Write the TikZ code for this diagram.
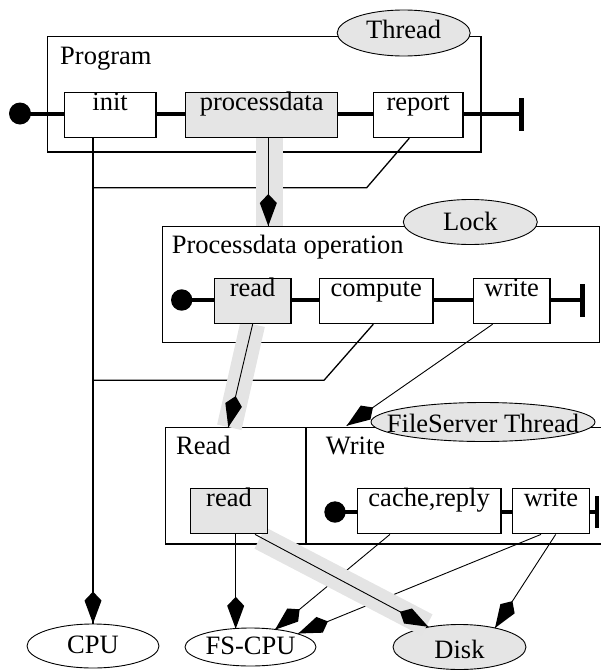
\documentclass[tikz,border=0pt]{standalone}
\usepackage{fontspec}
\setmainfont{Liberation Serif}
\usetikzlibrary{shapes.geometric,calc}
\definecolor{lg}{RGB}{229,229,229}
\definecolor{bandc}{RGB}{228,228,228}
\newcommand{\zwtext}[1]{\makebox[0pt]{#1}}
% kite-shaped arrow head: #1 = a point on the shaft, #2 = the tip
\newcommand{\kitehead}[2]{\fill ($(#2)!32pt!(#1)$) -- ($(#2)!23pt!(#1)!8.5pt!90:(#2)$) -- (#2) -- ($(#2)!23pt!(#1)!8.5pt!-90:(#2)$) -- cycle;}
\begin{document}
\begin{tikzpicture}[x=1pt,y=-1pt,
  font=\fontsize{26.5}{30}\selectfont,
  frame/.style={draw, line width=1.4pt, inner sep=0pt, rectangle},
  op/.style={draw, line width=1.4pt, fill=white, inner sep=0pt, rectangle,
    minimum width=#1, minimum height=45pt, text height=8pt, text depth=18pt},
  opg/.style={op=#1, fill=lg},
  oval/.style={ellipse, draw, line width=0.9pt, inner sep=0pt, text depth=0pt},
  flow/.style={line width=4pt},
  dotnode/.style={circle, fill=black, inner sep=0pt, minimum size=#1},
  barnode/.style={rectangle, fill=black, inner sep=0pt, minimum width=4.7pt, minimum height=#1},
  conn/.style={line width=1.3pt},
  slim/.style={line width=0.9pt},
  band/.style={line width=25pt, draw=bandc},
  lbl/.style={anchor=base west, inner sep=0pt}
]
\useasboundingbox (0,0) rectangle (601,672);
\clip (0,0) rectangle (601,672);

% ---- big frames ----
\node[frame, minimum width=433.3pt, minimum height=115.3pt] (prog) at (264.35,94.35) {};
\node[frame, minimum width=436.8pt, minimum height=115.6pt] (po) at (381.1,284.5) {};
\node[frame, minimum width=444.3pt, minimum height=116.7pt] (rw) at (387.85,485.65) {};
\coordinate (divtop) at (306,427.3);
\coordinate (divbot) at (306,544);
\draw[line width=1.4pt] (divtop) -- (divbot);

% ---- labels ----
\node[lbl] (lprog) at (60,64) {Program};
\node[lbl] (lpo) at (171.7,253.5) {Processdata operation};
\node[lbl] (lread) at (176,454.3) {Read};
\node[lbl] (lwrite) at (325.7,454.3) {Write};

% ---- ellipses (resources) ----
\node[oval, fill=lg, minimum width=133pt, minimum height=46pt, text height=10pt] (thread) at (403.7,33) {\zwtext{Thread}};
\node[oval, fill=lg, minimum width=134pt, minimum height=45pt, text height=17pt] (lock) at (470.3,222) {\zwtext{Lock}};
\node[oval, fill=lg, minimum width=224pt, minimum height=39pt, text height=20pt] (fst) at (483,422) {\zwtext{FileServer Thread}};
\node[oval, fill=white, minimum width=132pt, minimum height=44pt, text height=14.6pt] (cpu) at (93,646) {\zwtext{CPU}};
\node[oval, fill=white, minimum width=131pt, minimum height=38pt, text height=15.4pt] (fscpu) at (250.5,647) {\zwtext{FS-CPU}};
\node[oval, fill=lg, minimum width=133pt, minimum height=45pt, text height=22pt] (disk) at (459.5,647) {\zwtext{Disk}};

% ---- operation boxes ----
\node[op=91.7pt] (init) at (110.15,115) {init};
\node[opg=152pt] (pd) at (261.7,115) {processdata};
\node[op=89.7pt] (report) at (418.15,115) {report};

\node[opg=76.7pt] (rd2) at (252.65,301) {read};
\node[op=113.7pt] (comp) at (376.15,301) {compute};
\node[op=76.7pt] (wr2) at (511.65,301) {write};

\node[opg=76.6pt] (rd3) at (229,511.2) {read};
\node[op=143.7pt] (cache) at (429.15,511.2) {cache,reply};
\node[op=76.6pt] (wr3) at (551,511.2) {write};

% ---- connector end points ----
\coordinate (rp) at ([xshift=-8.85pt]report.south);
\coordinate (cp) at ([xshift=-2.85pt]comp.south);
\coordinate (ip) at (init.south -| cpu.north);
\coordinate (w2p) at ([xshift=-19pt]wr2.south);
\coordinate (r3a) at ([xshift=6.7pt]rd3.south);
\coordinate (r3b) at ([xshift=26pt]rd3.south);
\coordinate (cap) at ([xshift=-39.2pt]cache.south);
\coordinate (w3a) at ([xshift=-10pt]wr3.south);
\coordinate (w3b) at ([xshift=4.7pt]wr3.south);
\coordinate (r2p) at (rd2.south);
\coordinate (pa) at ([xshift=6.6pt]pd.south);
\coordinate (pat) at (pa |- po.north);

\coordinate (wa) at (346.7,425.7);
\coordinate (ra) at (228.3,427.3);
\coordinate (f1) at (235.7,628.8);
\coordinate (f2) at (275,629.7);
\coordinate (f3) at (298.3,633.5);
\coordinate (d1) at (428.3,626.8);
\coordinate (d2) at (495,628);

% ---- thin connectors ----
\coordinate (k1) at (366.7,187.7);
\draw[conn] (rp) -- (k1) -- (k1 -| cpu.north);
\coordinate (k2) at (324,380.3);
\draw[conn] (cp) -- (k2) -- (k2 -| cpu.north);
\draw[conn] (ip) -- (cpu.north); \kitehead{ip}{cpu.north}

\draw[slim] (w2p) -- (wa); \kitehead{w2p}{wa}

\draw[conn] (r3a) -- (f1); \kitehead{r3a}{f1}
\draw[slim] (cap) -- (f2); \kitehead{cap}{f2}
\draw[slim] (w3a) -- (f3); \kitehead{w3a}{f3}
\draw[slim] (w3b) -- (d2); \kitehead{w3b}{d2}

% ---- gray bands (refinement) ----
\draw[band, line width=26.7pt] ([xshift=7.6pt]pd.south) -- ([xshift=7.6pt]pd.south |- po.north);
\draw[band] (r2p) -- ([xshift=1pt]ra);
\coordinate (db1) at (260,538);
\coordinate (db2) at (427,625);
\draw[band, line width=24pt] (db1) -- (db2);

\draw[conn] (pa) -- (pat); \kitehead{pa}{pat}
\draw[slim] (r2p) -- (ra); \kitehead{r2p}{ra}
\draw[slim] (r3b) -- (d1); \kitehead{r3b}{d1}

% redraw boxes that the bands start under
\node[opg=152pt] (pdb) at (261.7,115) {processdata};
\node[opg=76.7pt] (rd2b) at (252.65,301) {read};
\node[opg=76.6pt] (rd3b) at (229,511.2) {read};

% ---- flows ----
\node[dotnode=22pt] (s1) at (20,113.5) {};
\node[barnode=32.4pt] (e1) at (521.7,114.5) {};
\draw[flow] (s1.center) -- (s1 -| init.west);
\draw[flow] (s1 -| init.east) -- (s1 -| pd.west);
\draw[flow] (s1 -| pd.east) -- (s1 -| report.west);
\draw[flow] (s1 -| report.east) -- (s1 -| e1.center);

\node[dotnode=21.4pt] (s2) at (181.7,300) {};
\node[barnode=32.7pt] (e2) at (582.7,300.35) {};
\draw[flow] (s2.center) -- (s2 -| rd2.west);
\draw[flow] (s2 -| rd2.east) -- (s2 -| comp.west);
\draw[flow] (s2 -| comp.east) -- (s2 -| wr2.west);
\draw[flow] (s2 -| wr2.east) -- (s2 -| e2.center);

\node[dotnode=21.4pt] (s3) at (335,512) {};
\node[barnode=31.7pt] (e3) at (597,512.15) {};
\draw[flow] (s3.center) -- (s3 -| cache.west);
\draw[flow] (s3 -| cache.east) -- (s3 -| wr3.west);
\draw[flow] (s3 -| wr3.east) -- (s3 -| e3.center);
\end{tikzpicture}
\end{document}
